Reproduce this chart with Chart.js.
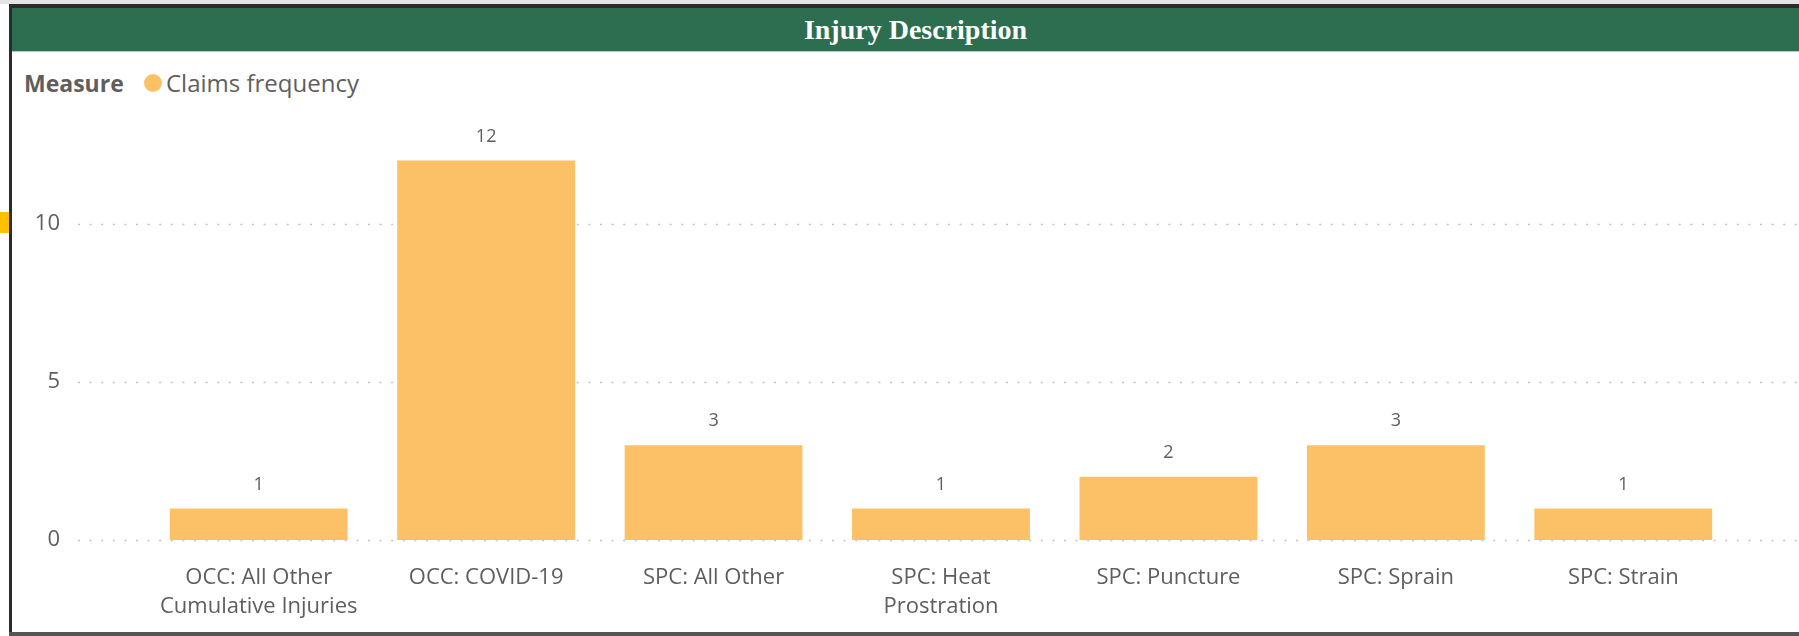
<!DOCTYPE html>
<html><head><meta charset="utf-8">
<script src="https://cdn.jsdelivr.net/npm/chart.js@4.4.0/dist/chart.umd.min.js"></script>
<style>
html,body{margin:0;padding:0;background:#fff;}
body{width:1799px;height:636px;position:relative;overflow:hidden;font-family:"Open Sans",sans-serif;}
#topstrip{position:absolute;left:0;top:0;width:1799px;height:4px;background:#e4e4e4;}
#topline{position:absolute;left:9px;top:4px;width:1790px;height:4px;background:#2b2b2b;}
#band{position:absolute;left:12px;top:8px;width:1787px;height:43px;background:#2d6e50;border-bottom:1px solid #a8d5bd;}
#title{position:absolute;left:32px;top:8px;width:1767px;height:43px;line-height:43px;text-align:center;color:#fff;font-family:"Liberation Serif",serif;font-weight:700;font-size:28px;}
#leftline{position:absolute;left:9px;top:4px;width:3px;height:632px;background:#2b2b2b;}
#bottomline{position:absolute;left:9px;top:632px;width:1790px;height:4px;background:#555;}
#mark{position:absolute;left:0;top:212px;width:9px;height:21px;background:#ffc000;}
#legMeasure{position:absolute;left:24px;top:67px;font-weight:700;font-size:23px;color:#605E5C;line-height:32px;}
#legDot{position:absolute;left:144px;top:74px;width:18px;height:18px;border-radius:50%;background:#FCC066;}
#legText{position:absolute;left:166px;top:67px;font-size:24px;color:#605E5C;line-height:32px;}
#c{position:absolute;left:12px;top:100px;}
</style>
</head>
<body>
<div id="topstrip"></div>
<div id="topline"></div>
<div id="band"></div>
<div id="title">Injury Description</div>
<div id="leftline"></div>
<div id="bottomline"></div>
<div id="mark"></div>
<div id="legMeasure">Measure</div>
<div id="legDot"></div>
<div id="legText">Claims frequency</div>
<canvas id="c" width="1787" height="532" style="width:1787px;height:532px"></canvas>
<script>
const categories = [
  ["OCC: All Other", "Cumulative Injuries"],
  "OCC: COVID-19",
  "SPC: All Other",
  ["SPC: Heat", "Prostration"],
  "SPC: Puncture",
  "SPC: Sprain",
  "SPC: Strain"
];
const claimsFrequency = [1, 12, 3, 1, 2, 3, 1];
const yTickValues = [0, 5, 10];
const seriesName = "Claims frequency";

const TEXT = "#605E5C";
const BAR = "#FCC066";

const gridPlugin = {
  id: "dottedGrid",
  beforeDatasetsDraw(chart) {
    const y = chart.scales.y, ctx = chart.ctx, a = chart.chartArea;
    ctx.save();
    ctx.strokeStyle = "#c3c3c3";
    ctx.lineWidth = 1.6;
    ctx.setLineDash([2, 9.6]);
    y.ticks.forEach(t => {
      const py = Math.round(y.getPixelForValue(t.value)) + 0.5;
      ctx.beginPath();
      ctx.moveTo(a.left - 67, py);
      ctx.lineTo(chart.width - 2, py);
      ctx.stroke();
    });
    ctx.restore();
  }
};

const labelPlugin = {
  id: "valueLabels",
  afterDatasetsDraw(chart) {
    const ctx = chart.ctx;
    const meta = chart.getDatasetMeta(0);
    ctx.save();
    ctx.font = "18px 'Open Sans'";
    ctx.fillStyle = TEXT;
    ctx.textAlign = "center";
    ctx.textBaseline = "middle";
    meta.data.forEach((bar, i) => {
      ctx.fillText(String(chart.data.datasets[0].data[i]), bar.x, bar.y - 24);
    });
    ctx.restore();
  }
};

function clearPad(s) {
  s.paddingTop = 0; s.paddingBottom = 0; s.paddingLeft = 0; s.paddingRight = 0;
}

function draw() {
  new Chart(document.getElementById("c"), {
    type: "bar",
    data: {
      labels: categories,
      datasets: [{
        label: seriesName,
        data: claimsFrequency,
        backgroundColor: BAR,
        borderWidth: 0,
        categoryPercentage: 1,
        barPercentage: 0.782
      }]
    },
    options: {
      responsive: false,
      devicePixelRatio: 1,
      animation: false,
      layout: { autoPadding: false, padding: { top: 29, right: 62, left: 0, bottom: 0 } },
      plugins: { legend: { display: false }, tooltip: { enabled: false }, title: { display: false } },
      scales: {
        x: {
          grid: { display: false, drawTicks: false },
          border: { display: false },
          ticks: {
            color: TEXT,
            font: { family: "'Open Sans'", size: 22, lineHeight: 1.34 },
            padding: 23,
            maxRotation: 0,
            autoSkip: false
          },
          afterFit(s) { s.height = 92; clearPad(s); }
        },
        y: {
          min: 0,
          max: 13,
          grid: { display: false, drawTicks: false },
          border: { display: false },
          afterBuildTicks(s) { s.ticks = yTickValues.map(v => ({ value: v })); },
          ticks: {
            color: TEXT,
            font: { family: "'Open Sans'", size: 22 },
            padding: 85
          },
          afterFit(s) { s.width = 133; clearPad(s); }
        }
      }
    },
    plugins: [gridPlugin, labelPlugin]
  });
}

if (document.fonts && document.fonts.load) {
  Promise.all([
    document.fonts.load("22px 'Open Sans'"),
    document.fonts.load("700 23px 'Open Sans'"),
    document.fonts.load("700 28px 'Liberation Serif'")
  ]).then(draw, draw);
} else { draw(); }
</script>
</body></html>
